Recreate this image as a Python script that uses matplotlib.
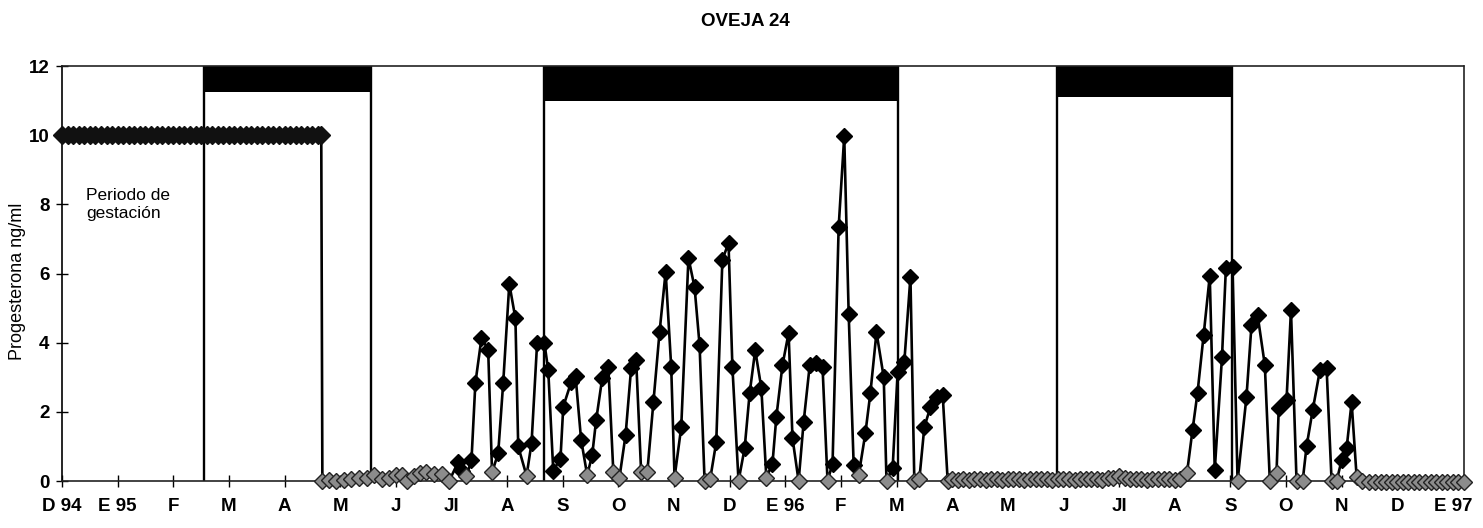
import matplotlib
matplotlib.use("Agg")
import matplotlib.pyplot as plt
import numpy as np

plt.rcParams['font.family'] = ['Liberation Sans', 'DejaVu Sans']

# x axis: months since 1 Dec 1994 (0 = D 94, 25 = E 97)
month_labels = ['D 94', 'E 95', 'F', 'M', 'A', 'M', 'J', 'Jl', 'A', 'S', 'O', 'N',
                'D', 'E 96', 'F', 'M', 'A', 'M', 'J', 'Jl', 'A', 'S', 'O', 'N',
                'D', 'E 97']

# gestation period (plotted at 10)
gest_x = [0.0, 0.1, 0.2, 0.3, 0.4, 0.5, 0.6, 0.7, 0.8, 0.9, 1.0, 1.1, 1.2, 1.3,
          1.4, 1.5, 1.6, 1.7, 1.8, 1.9, 2.0, 2.1, 2.2, 2.3, 2.4, 2.5, 2.6, 2.7,
          2.8, 2.9, 3.0, 3.1, 3.2, 3.3, 3.4, 3.5, 3.6, 3.7, 3.8, 3.9, 4.0, 4.1,
          4.2, 4.3, 4.4, 4.5, 4.6, 4.66]
gest_v = [10] * len(gest_x)

# progesterone samples after lambing
prog_x = [4.68, 4.80, 4.93, 5.07, 5.20, 5.34, 5.49, 5.61, 5.76, 5.88, 6.01, 6.12,
          6.21, 6.33, 6.44, 6.55, 6.69, 6.83, 6.96, 7.12, 7.19, 7.27, 7.36, 7.43,
          7.54, 7.66, 7.73, 7.84, 7.93, 8.04, 8.15, 8.20, 8.35, 8.44, 8.54, 8.67,
          8.74, 8.83, 8.96, 9.01, 9.15, 9.23, 9.33, 9.44, 9.53, 9.60, 9.71, 9.82,
          9.91, 10.02, 10.13, 10.23, 10.32, 10.41, 10.52, 10.63, 10.74, 10.85,
          10.95, 11.01, 11.13, 11.26, 11.37, 11.46, 11.55, 11.65, 11.76, 11.87,
          11.98, 12.05, 12.16, 12.27, 12.36, 12.46, 12.57, 12.66, 12.77, 12.84,
          12.95, 13.06, 13.13, 13.24, 13.33, 13.44, 13.56, 13.67, 13.76, 13.85,
          13.96, 14.06, 14.14, 14.23, 14.32, 14.44, 14.53, 14.64, 14.77, 14.82,
          14.93, 15.02, 15.14, 15.25, 15.32, 15.41, 15.50, 15.61, 15.72, 15.83,
          15.92,
          16.0, 16.1, 16.2, 16.3, 16.4, 16.5, 16.6, 16.7, 16.8, 16.9, 17.0, 17.1,
          17.2, 17.3, 17.4, 17.5, 17.6, 17.7, 17.8, 17.9, 18.0, 18.1, 18.2, 18.3,
          18.4, 18.5, 18.6, 18.7, 18.8, 18.9, 19.0, 19.1, 19.2, 19.3, 19.4, 19.5,
          19.6, 19.7, 19.8, 19.9, 20.0, 20.1,
          20.22, 20.32, 20.41, 20.52, 20.63, 20.72, 20.85, 20.92, 21.04, 21.13,
          21.29, 21.38, 21.49, 21.62, 21.71, 21.83, 21.87, 22.01, 22.09, 22.19,
          22.30, 22.37, 22.48, 22.61, 22.73, 22.82, 22.91, 23.00, 23.09, 23.18,
          23.27, 23.36,
          23.5, 23.6, 23.7, 23.8, 23.9, 24.0, 24.1, 24.2, 24.3, 24.4, 24.5, 24.6,
          24.7, 24.8, 24.9, 25.0, 25.1, 25.2]
prog_v = [0.0, 0.02, 0.0, 0.03, 0.05, 0.08, 0.10, 0.17, 0.05, 0.10, 0.17, 0.17,
          0.0, 0.15, 0.22, 0.27, 0.20, 0.20, 0.0, 0.55, 0.30, 0.15, 0.60, 2.83,
          4.13, 3.80, 0.25, 0.80, 2.83, 5.70, 4.70, 1.00, 0.15, 1.10, 4.00, 4.00,
          3.20, 0.30, 0.65, 2.15, 2.85, 3.05, 1.20, 0.17, 0.75, 1.75, 2.97, 3.30,
          0.25, 0.10, 1.33, 3.27, 3.50, 0.25, 0.25, 2.28, 4.30, 6.05,
          3.30, 0.10, 1.55, 6.45, 5.60, 3.93, 0.0, 0.05, 1.13, 6.40,
          6.88, 3.30, 0.0, 0.95, 2.54, 3.78, 2.69, 0.10, 0.50, 1.85,
          3.35, 4.28, 1.24, 0.0, 1.70, 3.35, 3.40, 3.30, 0.0, 0.50,
          7.35, 9.97, 4.83, 0.45, 0.17, 1.38, 2.54, 4.30, 3.00, 0.0,
          0.37, 3.15, 3.44, 5.90, 0.0, 0.05, 1.56, 2.14, 2.43, 2.48,
          0.0,
          0.05, 0.04, 0.05, 0.03, 0.05, 0.06, 0.04, 0.05, 0.05, 0.03, 0.05, 0.06,
          0.05, 0.04, 0.05, 0.05, 0.06, 0.05, 0.04, 0.05, 0.06, 0.05, 0.04, 0.05,
          0.05, 0.06, 0.05, 0.04, 0.08, 0.10, 0.15, 0.08, 0.05, 0.06, 0.05, 0.04,
          0.05, 0.05, 0.06, 0.05, 0.04, 0.05,
          0.22, 1.47, 2.55, 4.22, 5.93, 0.32, 3.58, 6.15, 6.20, 0.0,
          2.43, 4.50, 4.80, 3.35, 0.0, 0.22, 2.10, 2.34, 4.94, 0.0,
          0.0, 1.00, 2.05, 3.20, 3.27, 0.0, 0.0, 0.60, 0.95, 2.28,
          0.12, 0.0,
          -0.02, -0.03, -0.02, -0.03, -0.03, -0.02, -0.03, -0.03, -0.02, -0.03,
          -0.03, -0.02, -0.03, -0.03, -0.02, -0.03, -0.03, -0.02]

# season markers: vertical lines and black bars at the top
vline_x = [2.55, 5.56, 8.67, 15.02, 17.88, 21.03]
bar_start = [2.55, 8.67, 17.88]
bar_end = [5.56, 15.02, 21.03]
bar_bottom = [11.25, 11.0, 11.1]

fig = plt.figure(figsize=(14.83, 5.28), dpi=100)
ax = fig.add_axes([62 / 1483, 1 - 481 / 528, (1464 - 62) / 1483, (481 - 66) / 528])

for s, e, b in zip(bar_start, bar_end, bar_bottom):
    ax.fill_between([s, e], b, 12, color='black', linewidth=0, zorder=2)
for xv in vline_x:
    ax.axvline(xv, color='black', linewidth=1.7, zorder=2)

# full series: gestation then samples (one connected line)
all_x = gest_x + prog_x
all_v = gest_v + prog_v
ax.plot(all_x, all_v, color='black', linewidth=1.9, zorder=3, clip_on=False)

# gestation drawn as a dense band of markers
ax.plot(gest_x, gest_v, linestyle='none', marker='D', markersize=9.5,
        markerfacecolor='#111111', markeredgecolor='#111111', zorder=4, clip_on=False)

px = np.array(prog_x)
pv = np.array(prog_v)
low = (pv < 0.3)
ax.plot(px[~low], pv[~low], linestyle='none', marker='D', markersize=8.5,
        markerfacecolor='black', markeredgecolor='black', zorder=4, clip_on=False)
ax.plot(px[low], pv[low], linestyle='none', marker='D', markersize=8.5,
        markerfacecolor='#8c8c8c', markeredgecolor='#222222', markeredgewidth=1.0,
        zorder=4, clip_on=False)

ax.text(0.43, 8.0, 'Periodo de\ngestación', fontsize=12.5, ha='left', va='center',
        linespacing=1.3)

ax.set_xlim(0, 25.2)
ax.set_ylim(0, 12)
ax.set_yticks([0, 2, 4, 6, 8, 10, 12])
ax.set_xticks(range(len(month_labels)))
ax.set_xticklabels(month_labels)
for lab in ax.get_xticklabels() + ax.get_yticklabels():
    lab.set_fontweight('bold')
    lab.set_fontsize(13.5)
ax.tick_params(axis='y', direction='inout', length=8, width=1, pad=5)
ax.tick_params(axis='x', direction='inout', length=8, width=1, pad=8)

ax.spines['left'].set_linewidth(1.2)
for side in ['top', 'right', 'bottom']:
    ax.spines[side].set_linestyle((0, (1, 1)))
    ax.spines[side].set_linewidth(1.2)
    ax.spines[side].set_color('#222222')

fig.text(18 / 1483, 1 - 281 / 528, 'Progesterona ng/ml', rotation=90,
         fontsize=13, ha='center', va='center')
fig.text(745 / 1483, 1 - 22 / 528, 'OVEJA 24', fontsize=13.5, fontweight='bold',
         ha='center', va='center')

fig.savefig('out.png', dpi=100)
